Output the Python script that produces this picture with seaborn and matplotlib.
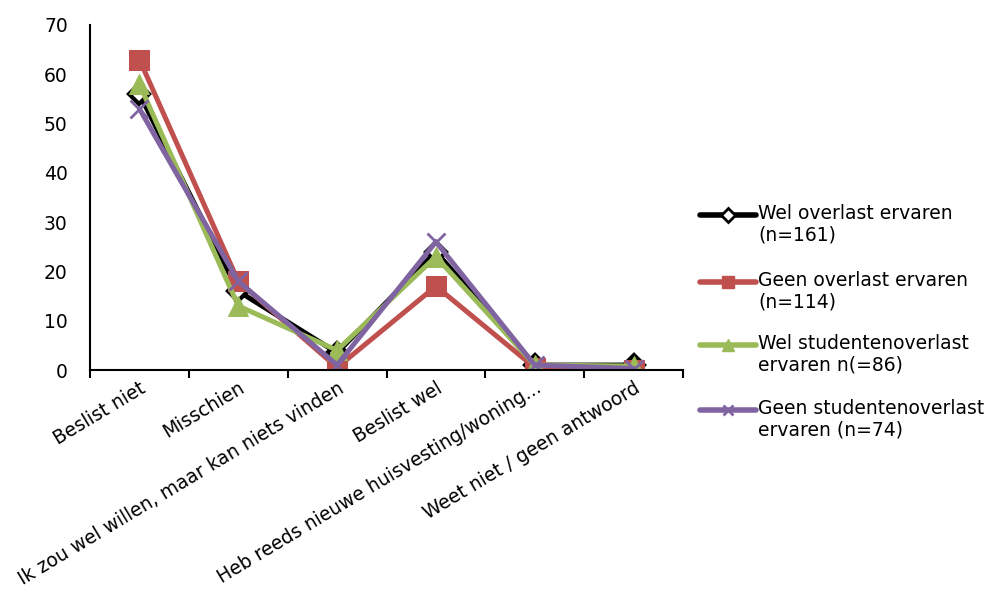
import matplotlib
matplotlib.use("Agg")
import matplotlib.pyplot as plt
import seaborn as sns
import pandas as pd
import numpy as np
from matplotlib.lines import Line2D

categories = ["Beslist niet", "Misschien", "Ik zou wel willen, maar kan niets vinden",
              "Beslist wel", "Heb reeds nieuwe huisvesting/woning...", "Weet niet / geen antwoord"]
series_names = ["Wel overlast ervaren\n(n=161)", "Geen overlast ervaren\n(n=114)",
                "Wel studentenoverlast\nervaren n(=86)", "Geen studentenoverlast\nervaren (n=74)"]
wel_overlast = [56, 16, 3.5, 24, 1, 1]
geen_overlast = [63, 18, 0.5, 17, 0.5, 0]
wel_student = [58, 13, 4, 23, 1, 0.8]
geen_student = [53, 18, 1, 26, 1, 0.3]
yticks = [0, 10, 20, 30, 40, 50, 60, 70]

colors = ["#000000", "#C0504D", "#9BBB59", "#8064A2"]
markers = ["D", "s", "^", "x"]

sns.set_style("white")
plt.rcParams['font.family'] = ['DejaVu Sans']
plt.rcParams['text.color'] = 'black'
plt.rcParams['xtick.color'] = 'black'
plt.rcParams['ytick.color'] = 'black'

fig = plt.figure(figsize=(9.88, 5.91), dpi=100)
ax = fig.add_axes([90/988, 1-370/591, (683-90)/988, (370-25)/591])

all_series = [wel_overlast, geen_overlast, wel_student, geen_student]
for name, vals, c, m in zip(series_names, all_series, colors, markers):
    d = pd.DataFrame({"pos": np.arange(len(categories)), "value": vals})
    kw = dict(color=c, marker=m, linewidth=3.6)
    if m == "D":
        kw.update(markersize=10, markerfacecolor="white", markeredgecolor=c, markeredgewidth=3)
    elif m == "x":
        kw.update(markersize=13, markeredgewidth=2, markeredgecolor=c)
    else:
        kw.update(markersize=14, markeredgecolor=c)
    sns.lineplot(data=d, x="pos", y="value", ax=ax, legend=False, **kw)

ax.set_xlim(-0.5, 5.5)
ax.set_ylim(0, 70)
ax.set_yticks(yticks)
ax.set_yticklabels([str(t) for t in yticks], fontsize=13.5)
ax.set_xticks(np.arange(-0.5, 6, 1))
ax.set_xticklabels([])
ax.set_xticks(np.arange(6), minor=True)
ax.set_xticklabels(categories, minor=True, rotation=31, ha="right", rotation_mode="anchor", fontsize=13.5)
ax.tick_params(axis="x", which="major", direction="out", length=6, width=1.5, color="black", bottom=True)
ax.tick_params(axis="x", which="minor", length=0, pad=6)
ax.tick_params(axis="y", length=0, pad=16, left=False)
ax.set_xlabel("")
ax.set_ylabel("")
for s in ["top", "right"]:
    ax.spines[s].set_visible(False)
for s in ["left", "bottom"]:
    ax.spines[s].set_color("black")
    ax.spines[s].set_linewidth(1.5)

# Legend drawn manually: handle aligned with first line of each label
leg_y = [215, 282, 345, 410]
for name, c, m, yy in zip(series_names, colors, markers, leg_y):
    yf = 1 - yy/591
    kw = dict(color=c, linewidth=4, marker=m, transform=fig.transFigure)
    if m == "D":
        kw.update(markersize=7, markerfacecolor="white", markeredgecolor=c, markeredgewidth=2)
    elif m == "x":
        kw.update(markersize=7, markeredgewidth=2)
    else:
        kw.update(markersize=9)
    ln = Line2D([700/988, 728/988, 756/988], [yf, yf, yf], markevery=[1], **kw)
    fig.add_artist(ln)
    fig.text(758/988, yf + 11/591, name, fontsize=13.5, va="top", ha="left", linespacing=1.15)

fig.savefig("out.png", dpi=100)
